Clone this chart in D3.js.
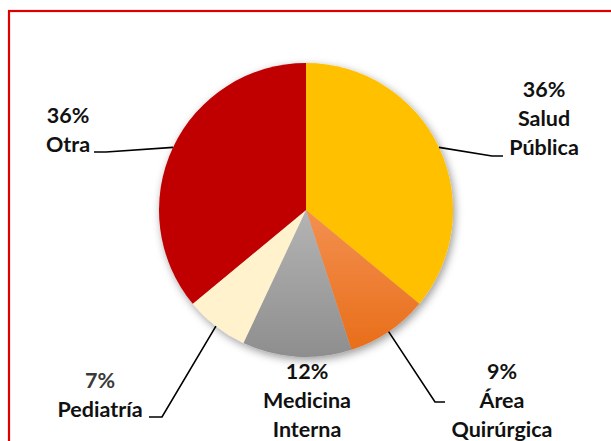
<!doctype html>
<html lang="es">
<head>
<meta charset="UTF-8">
<title>Distribución por área</title>
<style>
  body { margin: 0; background: #fff; }
  svg { display: block; }
</style>
</head>
<body>
<div class="container"></div>

<script src="https://d3js.org/d3.v7.min.js"></script>
<script>
  // data
  const categories = ['Salud Pública', 'Área Quirúrgica', 'Medicina Interna', 'Pediatría', 'Otra'];
  const labelLines = [['Salud', 'Pública'], ['Área', 'Quirúrgica'], ['Medicina', 'Interna'], ['Pediatría'], ['Otra']];
  const values = [36, 9, 12, 7, 36];

  const SVG_WIDTH = 611;
  const SVG_HEIGHT = 441;
  const CX = 306;
  const CY = 210;
  const RADIUS = 147;

  const fills = ['#FFC000', 'url(#gOrange)', 'url(#gGrey)', '#FFF2CC', '#C00000'];

  // label anchor (text centre x, first baseline y) and leader bend points
  const labelLayout = [
    { x: 544, y: 97, pctColor: '#111', leader: [[492, 156], [503, 156]] },
    { x: 502, y: 379, pctColor: '#111', leader: [[435, 402], [445, 402]] },
    { x: 307, y: 379, pctColor: '#111', leader: null },
    { x: 100, y: 388, pctColor: '#3a3a3a', leader: [[162, 417], [149, 417]] },
    { x: 68, y: 123, pctColor: '#111', leader: [[106, 152], [94, 152]] }
  ];

  const svg = d3.select('.container')
    .append('svg')
    .attr('width', SVG_WIDTH)
    .attr('height', SVG_HEIGHT);

  const defs = svg.append('defs');

  const gOrange = defs.append('linearGradient')
    .attr('id', 'gOrange').attr('x1', 0).attr('y1', 0).attr('x2', 0).attr('y2', 1);
  gOrange.append('stop').attr('offset', '0%').attr('stop-color', '#F4904F');
  gOrange.append('stop').attr('offset', '100%').attr('stop-color', '#E86E1A');

  const gGrey = defs.append('linearGradient')
    .attr('id', 'gGrey').attr('x1', 0).attr('y1', 0).attr('x2', 0).attr('y2', 1);
  gGrey.append('stop').attr('offset', '0%').attr('stop-color', '#B4B4B4');
  gGrey.append('stop').attr('offset', '100%').attr('stop-color', '#8E8E8E');

  const shadow = defs.append('filter')
    .attr('id', 'shadow').attr('x', '-20%').attr('y', '-20%').attr('width', '140%').attr('height', '140%');
  shadow.append('feDropShadow')
    .attr('dx', 2).attr('dy', 3).attr('stdDeviation', 4)
    .attr('flood-color', '#000').attr('flood-opacity', 0.4);

  // outer border
  svg.append('rect')
    .attr('x', 9).attr('y', 11)
    .attr('width', SVG_WIDTH + 20).attr('height', SVG_HEIGHT + 20)
    .attr('fill', 'none')
    .attr('stroke', '#DD0000')
    .attr('stroke-width', 2.2);

  const data = categories.map((c, i) => ({ name: c, val: values[i], lines: labelLines[i], idx: i }));

  const pie = d3.pie()
    .value(d => d.val)
    .sort(null);

  const arc = d3.arc().innerRadius(0).outerRadius(RADIUS);
  const edge = d3.arc().innerRadius(RADIUS).outerRadius(RADIUS);

  const arcs = pie(data);

  const graph = svg.append('g')
    .attr('transform', `translate(${CX}, ${CY})`);

  graph.append('g')
    .attr('filter', 'url(#shadow)')
    .selectAll('path')
    .data(arcs)
    .enter().append('path')
    .attr('d', arc)
    .attr('fill', d => fills[d.data.idx]);

  // leader lines
  svg.append('g')
    .selectAll('path')
    .data(arcs.filter(d => labelLayout[d.data.idx].leader))
    .enter().append('path')
    .attr('d', d => {
      const p = edge.centroid(d);
      const pts = [[CX + p[0], CY + p[1]], ...labelLayout[d.data.idx].leader];
      return d3.line()(pts);
    })
    .attr('fill', 'none')
    .attr('stroke', '#000')
    .attr('stroke-width', 1.6);

  // labels
  const labels = svg.append('g')
    .attr('font-family', 'Lato, "Open Sans", sans-serif')
    .attr('font-weight', 'bold')
    .attr('font-size', 21.5)
    .attr('text-anchor', 'middle')
    .selectAll('text')
    .data(arcs)
    .enter().append('text')
    .attr('x', d => labelLayout[d.data.idx].x)
    .attr('y', d => labelLayout[d.data.idx].y);

  labels.append('tspan')
    .attr('x', d => labelLayout[d.data.idx].x)
    .attr('fill', d => labelLayout[d.data.idx].pctColor)
    .text(d => `${d.data.val}%`);

  labels.each(function (d) {
    const t = d3.select(this);
    d.data.lines.forEach((line) => {
      t.append('tspan')
        .attr('x', labelLayout[d.data.idx].x)
        .attr('dy', 29)
        .attr('fill', '#111')
        .text(line);
    });
  });
</script>
</body>
</html>
